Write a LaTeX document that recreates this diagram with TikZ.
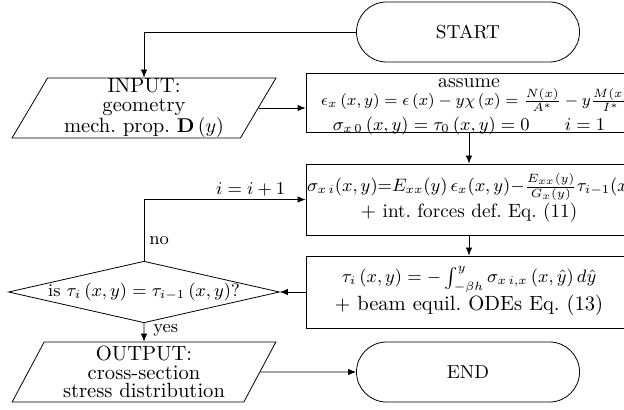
\documentclass[tikz,border=0pt]{standalone}
\usetikzlibrary{shapes.geometric,shapes.misc,arrows.meta}
\newcommand{\mathsz}{\fontsize{8.8}{9}\selectfont}
\begin{document}
\begin{tikzpicture}[x=0.5pt,y=-0.5pt,
  every node/.style={font=\fontsize{9.4}{9.3}\selectfont},
  term/.style={draw, rounded rectangle, minimum width=111.5pt, minimum height=30pt, inner sep=0pt},
  io/.style={draw, trapezium, trapezium left angle=63.43, trapezium right angle=116.57,
    trapezium stretches=true, minimum width=132pt, minimum height=30pt, inner sep=0pt, align=center,
    font=\fontsize{10.3}{9.3}\selectfont},
  proc/.style={draw, rectangle, minimum width=163pt, inner sep=0pt},
  ptext/.style={text width=162pt, inner sep=0pt, align=flush center},
  decide/.style={draw, diamond, aspect=4.4, inner sep=0pt, minimum width=132.5pt, minimum height=30pt,
    font=\fontsize{9}{9}\selectfont},
  conn/.style={-{Latex[length=4pt,width=3.2pt]}},
  lbl/.style={inner sep=2.5pt, font=\fontsize{9}{9}\selectfont}]
\useasboundingbox (0,0) rectangle (624,410);

\node[term] (start) at (468,32) {START};
\node[io] (input) at (144,108) {INPUT:\\geometry\\mech.\ prop.\ $\mathbf{D}\left(y\right)$};

\node[proc, minimum height=29.5pt] (assume) at (469,102.5) {};
\node[ptext, anchor=north, font=\fontsize{9.9}{9}\selectfont] (assumetxt) at (469,78)
  {assume\\
   \hspace*{7pt}{\fontsize{8.45}{9}\selectfont$\epsilon_x\left(x,y\right)=\epsilon\left(x\right)-y\chi\left(x\right)=\frac{N(x)}{A^*}-y\frac{M(x)}{I^*}$}\\[1.5pt]
   {\mathsz$\sigma_{x\,0}\left(x,y\right)=\tau_0\left(x,y\right)=0\qquad i=1$}};

\node[proc, minimum height=35.5pt] (sigma) at (469,199.5) {};
\node[ptext, font=\fontsize{9.6}{9.5}\selectfont] (sigmatxt) at (469,198)
  {{\mathsz$\sigma_{x\,i}(x,y){=}E_{xx}(y)\,\epsilon_x(x,y){-}\frac{E_{xx}(y)}{G_x(y)}\tau_{i-1}(x,y)$}\\
   $+$ int.\ forces def.\ Eq.~(11)};

\node[proc, minimum height=36pt] (tau) at (469,292) {};
\node[ptext, font=\fontsize{10.3}{10}\selectfont] (tautxt) at (469,291)
  {{\fontsize{8.6}{9}\selectfont$\tau_i\left(x,y\right)=-\int_{-\beta h}^{y}\sigma_{x\,i,x}\left(x,\hat{y}\right)d\hat{y}$}\\
   $+$ beam equil.\ ODEs Eq.~(13)};

\node[decide] (dec) at (144,292) {is $\tau_i\left(x,y\right)=\tau_{i-1}\left(x,y\right)$?};
\node[io] (output) at (144,372) {OUTPUT:\\cross-section\\stress distribution};
\node[term] (end) at (468,372) {END};

\draw[conn] (start.west) -| (input.north);
\draw[conn] (input.east) -- (input.east -| assume.west);
\draw[conn] (assume.south) -- (sigma.north);
\draw[conn] (sigma.south) -- (tau.north);
\draw[conn] (tau.west) -- (dec.east);
\draw[conn] (dec.north) -- node[lbl, right, pos=0.33] {no} (dec.north |- sigma.west)
  -- node[lbl, above, pos=0.66, inner sep=1.5pt] {$i=i+1$} (sigma.west);
\draw[conn] (dec.south) -- node[lbl, right, pos=0.4, inner sep=4.5pt] {yes} (output.north);
\draw[conn] (output.east) -- (end.west);
\end{tikzpicture}
\end{document}
